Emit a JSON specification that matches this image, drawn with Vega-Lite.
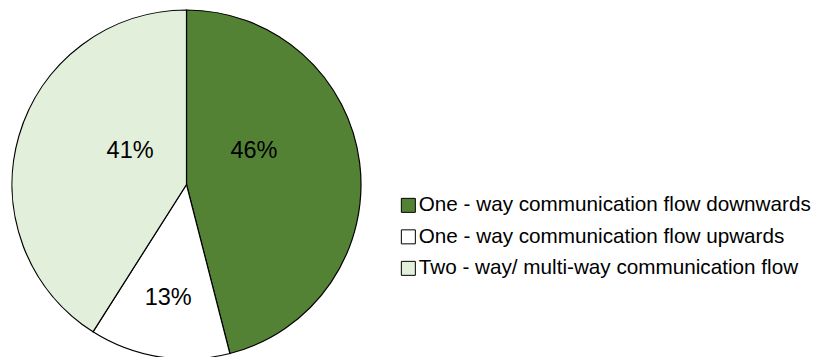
{
  "$schema": "https://vega.github.io/schema/vega-lite/v6.json",
  "width": 373,
  "height": 369,
  "padding": 0,
  "background": "white",
  "config": {"view": {"stroke": null}, "font": "Liberation Sans"},
  "data": {"values": [
    {"category": "One - way communication flow downwards", "value": 46, "order": 1, "label": "46%"},
    {"category": "One - way communication flow upwards", "value": 13, "order": 2, "label": "13%"},
    {"category": "Two - way/ multi-way communication flow", "value": 41, "order": 3, "label": "41%"}
  ]},
  "transform": [
    {"stack": "value", "groupby": [], "sort": [{"field": "order"}], "as": ["v0", "v1"]},
    {"calculate": "(datum.v0 + datum.v1) / 2", "as": "mid"}
  ],
  "layer": [
    {
      "mark": {"type": "arc", "radius": 174.5, "stroke": "black", "strokeWidth": 1.2},
      "encoding": {
        "theta": {"field": "v0", "type": "quantitative", "scale": {"domain": [0, 100]}},
        "theta2": {"field": "v1"},
        "color": {
          "field": "category", "type": "nominal",
          "scale": {
            "domain": ["One - way communication flow downwards", "One - way communication flow upwards", "Two - way/ multi-way communication flow"],
            "range": ["#548235", "#ffffff", "#e2efda"]
          },
          "legend": {
            "title": null,
            "orient": "none",
            "legendX": 398,
            "legendY": 195,
            "symbolType": "square",
            "symbolSize": 196,
            "symbolStrokeColor": "black",
            "symbolStrokeWidth": 1,
            "labelFont": "Liberation Sans",
            "labelFontSize": 20.7,
            "labelColor": "black",
            "labelOffset": 0,
            "labelLimit": 0,
            "rowPadding": 9.5
          }
        }
      }
    },
    {
      "transform": [{"filter": "datum.order == 1"}],
      "mark": {"type": "text", "radius": 75, "dx": -7, "dy": -24, "fontSize": 23.5, "font": "Liberation Sans", "color": "black"},
      "encoding": {
        "theta": {"field": "mid", "type": "quantitative", "scale": {"domain": [0, 100]}},
        "text": {"field": "label"}
      }
    },
    {
      "transform": [{"filter": "datum.order == 2"}],
      "mark": {"type": "text", "radius": 117, "dx": 0, "dy": -2, "fontSize": 23.5, "font": "Liberation Sans", "color": "black"},
      "encoding": {
        "theta": {"field": "mid", "type": "quantitative", "scale": {"domain": [0, 100]}},
        "text": {"field": "label"}
      }
    },
    {
      "transform": [{"filter": "datum.order == 3"}],
      "mark": {"type": "text", "radius": 66, "dx": 7, "dy": -15, "fontSize": 23.5, "font": "Liberation Sans", "color": "black"},
      "encoding": {
        "theta": {"field": "mid", "type": "quantitative", "scale": {"domain": [0, 100]}},
        "text": {"field": "label"}
      }
    }
  ]
}
